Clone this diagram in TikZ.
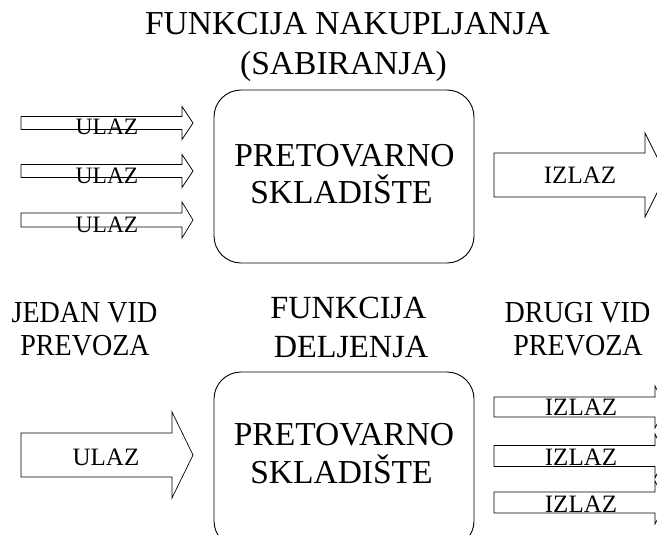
\documentclass[tikz,border=0pt]{standalone}
\usepackage{fontspec}
\usepackage{graphicx}
\setmainfont{Liberation Serif}
\newcommand\rarrowshape[6]{%
  \draw[arr] ({#1},{#4-#5}) -- ({#2},{#4-#5}) -- ({#2},{#4-#6}) -- ({#3},{#4})
    -- ({#2},{#4+#6}) -- ({#2},{#4+#5}) -- ({#1},{#4+#5}) -- cycle;}
\newcommand\narrowtxt[1]{\scalebox{0.92}[1]{#1}}
\begin{document}
\begin{tikzpicture}[x=1pt,y=-1pt,
  txt/.style={anchor=base, inner sep=0pt},
  title/.style={txt, font=\fontsize{33.5}{37}\selectfont},
  midlab/.style={txt, font=\fontsize{32.3}{37}\selectfont},
  side/.style={txt, font=\fontsize{30.5}{34}\selectfont},
  boxtxt/.style={txt, font=\fontsize{33.5}{37}\selectfont},
  small/.style={txt, font=\fontsize{23.5}{25}\selectfont},
  mid/.style={txt, font=\fontsize{25}{27}\selectfont},
  arr/.style={draw, line width=0.7pt},
  store/.style={draw, line width=0.9pt, rounded corners=27pt}]
\useasboundingbox (0,0) rectangle (657,535);
% titles
\node[title] (t1) at (347.5,35) {FUNKCIJA NAKUPLJANJA};
\node[title] (t2) at (343.5,75) {(SABIRANJA)};
% top store
\draw[store] (214,90) rectangle (474,263);
\node[boxtxt] (p1) at (344.5,166) {PRETOVARNO};
\node[boxtxt] (s1) at (341.5,203) {SKLADIŠTE};
% top-left inputs
\rarrowshape{21}{182}{193}{123}{6.5}{16.5}
\rarrowshape{21}{182}{193}{171}{6.5}{16.5}
\rarrowshape{21}{182}{193}{220}{7}{18}
\node[small] (u1) at (107,135) {ULAZ};
\node[small] (u2) at (107,183) {ULAZ};
\node[small] (u3) at (107,232) {ULAZ};
% top-right output
\rarrowshape{494}{645}{666}{175}{22}{42}
\node[mid] (i0) at (580,183) {IZLAZ};
% middle labels
\node[side] (j1) at (84.5,322) {\narrowtxt{JEDAN VID}};
\node[side] (j2) at (85,355) {\narrowtxt{PREVOZA}};
\node[midlab] (f1) at (348.5,318) {FUNKCIJA};
\node[midlab] (f2) at (351,357) {DELJENJA};
\node[side] (d1) at (577.5,322) {\narrowtxt{DRUGI VID}};
\node[side] (d2) at (578,355) {\narrowtxt{PREVOZA}};
% bottom store
\draw[store] (214,372) rectangle (474,548);
\node[boxtxt] (p2) at (344,445) {PRETOVARNO};
\node[boxtxt] (s2) at (341.5,483) {SKLADIŠTE};
% bottom-left input
\rarrowshape{21}{172}{193}{455}{22}{43}
\node[mid] (u4) at (106,465) {ULAZ};
% bottom-right outputs
\rarrowshape{494}{655}{666}{407}{10}{21}
\rarrowshape{494}{655}{666}{456}{10.5}{22}
\rarrowshape{494}{655}{666}{502.5}{10.5}{21.5}
\node[mid] (i1) at (581,415) {IZLAZ};
\node[mid] (i2) at (581,465) {IZLAZ};
\node[mid] (i3) at (581,512) {IZLAZ};
\end{tikzpicture}
\end{document}
